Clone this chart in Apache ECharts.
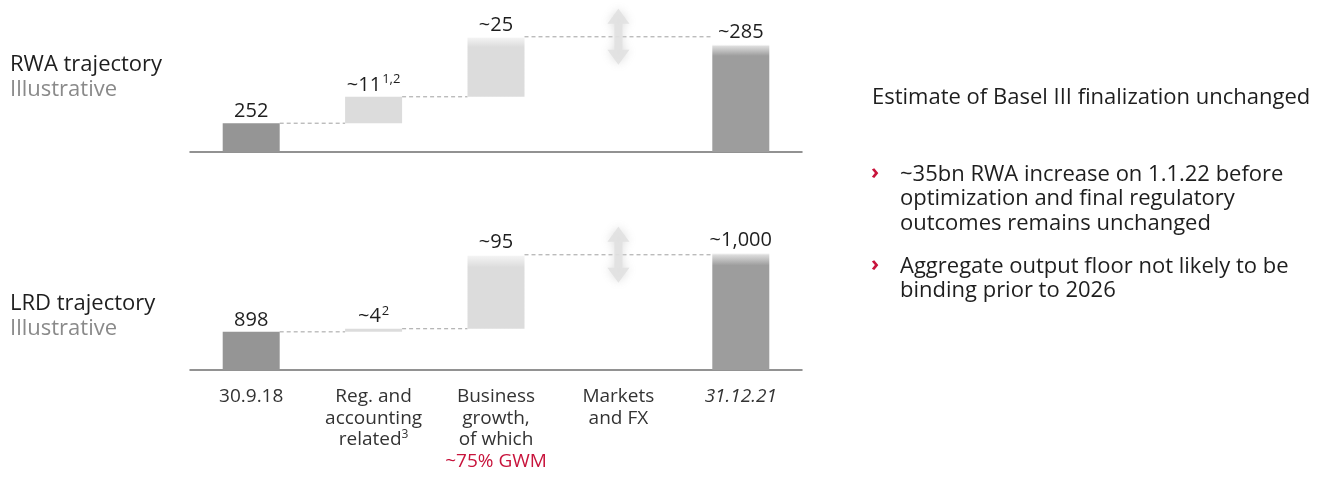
<!DOCTYPE html>
<html>
<head>
<meta charset="utf-8">
<script src="https://cdn.jsdelivr.net/npm/echarts@6/dist/echarts.min.js"></script>
<style>
  html, body { margin: 0; padding: 0; background: #ffffff; }
  #chart { width: 1329px; height: 479px; }
</style>
</head>
<body>
<div id="chart"></div>
<script>
// Waterfall steps: start value, changes, end value
const categories = ['30.9.18', 'Reg. and accounting related', 'Business growth', 'Markets and FX', '31.12.21'];
const categoryLabels = [
  '30.9.18',
  'Reg. and\naccounting\nrelated{sup|3}',
  'Business\ngrowth,\nof which\n{red|~75% GWM}',
  'Markets\nand FX',
  '{it|31.12.21}'
];

const rwaValues = [252, 11, 25, -3, 285];
const rwaLabels = ['252', '~11', '~25', '', '~285'];
const rwaNotes = ['', '1,2', '', '', ''];

const lrdValues = [898, 4, 95, 3, 1000];
const lrdLabels = ['898', '~4', '~95', '', '~1,000'];
const lrdNotes = ['', '2', '', '', ''];

const FONT = '"Open Sans", "Noto Sans", sans-serif';
const BAR_W = 57;
const DARK = '#959595';
const DARK_END = '#9d9d9d';
const LIGHT = '#dcdcdc';

function fade(color, stop) {
  return new echarts.graphic.LinearGradient(0, 0, 0, 1, [
    { offset: 0, color: 'rgba(255,255,255,0.0)' },
    { offset: 0.02, color: echarts.color.modifyAlpha(color, 0.35) },
    { offset: stop, color: color },
    { offset: 1, color: color }
  ]);
}

function buildWaterfall(vals) {
  const l0 = vals[0];
  const l1 = l0 + vals[1];
  const l2 = l1 + vals[2];
  const base = [0, l0, l1, '-', 0];
  const shown = [
    { value: vals[0], itemStyle: { color: DARK } },
    { value: vals[1], itemStyle: { color: LIGHT } },
    { value: vals[2], itemStyle: { color: fade(LIGHT, 0.17) } },
    '-',
    { value: vals[4], itemStyle: { color: fade(DARK_END, 0.11) } }
  ];
  const connectors = [[0, 1, l0], [1, 2, l1], [2, 4, l2]];
  const arrow = [[3, l2]];
  return { base, shown, connectors, arrow };
}

const valueRich = {
  v: { fontFamily: FONT, fontSize: 20, color: '#1e1e1e', lineHeight: 24 },
  sup: { fontFamily: FONT, fontSize: 13, color: '#1e1e1e', lineHeight: 24, verticalAlign: 'top', padding: [0, 0, 0, 1] }
};

function seriesFor(vals, labels, notes, idx) {
  const w = buildWaterfall(vals);
  return [
    {
      type: 'bar', xAxisIndex: idx, yAxisIndex: idx, stack: 'w' + idx,
      barWidth: BAR_W, silent: true,
      itemStyle: { color: 'transparent' },
      data: w.base
    },
    {
      type: 'bar', xAxisIndex: idx, yAxisIndex: idx, stack: 'w' + idx,
      barWidth: BAR_W,
      data: w.shown,
      label: {
        show: true, position: 'top', distance: 0,
        formatter: p => {
          const main = labels[p.dataIndex];
          if (!main) return '';
          const note = notes[p.dataIndex];
          return '{v|' + main + '}' + (note ? '{sup|' + note + '}' : '');
        },
        rich: valueRich
      }
    },
    {
      type: 'custom', xAxisIndex: idx, yAxisIndex: idx, z: 1,
      encode: { x: [0, 1], y: 2 },
      data: w.connectors,
      renderItem: (params, api) => {
        const a = api.coord([api.value(0), api.value(2)]);
        const b = api.coord([api.value(1), api.value(2)]);
        return {
          type: 'line',
          shape: { x1: a[0] + BAR_W / 2, y1: a[1], x2: b[0] - BAR_W / 2, y2: b[1] },
          style: { stroke: '#a0a0a0', lineWidth: 1, lineDash: [4, 3] }
        };
      }
    },
    {
      type: 'scatter', xAxisIndex: idx, yAxisIndex: idx, z: 5, silent: true,
      symbol: 'path://M11 0 L22 15 L15 15 L15 41 L22 41 L11 56 L0 41 L7 41 L7 15 L0 15 Z',
      symbolSize: [22, 56],
      itemStyle: { color: '#e0e0e0', opacity: 0.85, shadowBlur: 10, shadowColor: 'rgba(215,215,215,1)' },
      data: w.arrow
    }
  ];
}

const axisLineStyle = { lineStyle: { color: '#6f6f6f', width: 1.5 } };

const chart = echarts.init(document.getElementById('chart'), null, { renderer: 'canvas' });
chart.setOption({
  animation: false,
  backgroundColor: '#ffffff',
  grid: [
    { left: 190, right: 527, top: 20, bottom: 327 },
    { left: 190, right: 527, top: 240, bottom: 109 }
  ],
  xAxis: [
    {
      type: 'category', gridIndex: 0, data: categories,
      axisLine: axisLineStyle, axisTick: { show: false }, axisLabel: { show: false }
    },
    {
      type: 'category', gridIndex: 1, data: categories,
      axisLine: axisLineStyle, axisTick: { show: false },
      axisLabel: {
        interval: 0, margin: 16,
        formatter: (v, i) => categoryLabels[i],
        fontFamily: FONT, fontSize: 19, color: '#333333', lineHeight: 21.5,
        rich: {
          sup: { fontFamily: FONT, fontSize: 12, color: '#333333', lineHeight: 21.5, verticalAlign: 'top' },
          red: { fontFamily: FONT, fontSize: 19, color: '#c8143c', lineHeight: 21.5 },
          it: { fontFamily: FONT, fontSize: 19, color: '#333333', lineHeight: 21.5, fontStyle: 'italic' }
        }
      }
    }
  ],
  yAxis: [
    { type: 'value', gridIndex: 0, min: 240, max: 295, show: false },
    { type: 'value', gridIndex: 1, min: 849, max: 1016, show: false }
  ],
  series: [].concat(seriesFor(rwaValues, rwaLabels, rwaNotes, 0), seriesFor(lrdValues, lrdLabels, lrdNotes, 1)),
  graphic: [
    { type: 'text', left: 10, top: 54, style: { text: 'RWA trajectory', font: '22px ' + FONT, fill: '#1e1e1e' } },
    { type: 'text', left: 10, top: 79, style: { text: 'Illustrative', font: '22px ' + FONT, fill: '#8a8a8a' } },
    { type: 'text', left: 10, top: 293, style: { text: 'LRD trajectory', font: '22px ' + FONT, fill: '#1e1e1e' } },
    { type: 'text', left: 10, top: 318, style: { text: 'Illustrative', font: '22px ' + FONT, fill: '#8a8a8a' } },
    { type: 'text', left: 872, top: 87, style: { text: 'Estimate of Basel III finalization unchanged', font: '22px ' + FONT, fill: '#1e1e1e' } },
    { type: 'text', left: 871, top: 162, style: { text: '›', font: 'bold 22px ' + FONT, fill: '#c8143c' } },
    { type: 'text', left: 900, top: 162, style: { text: '~35bn RWA increase on 1.1.22 before\noptimization and final regulatory\noutcomes remains unchanged', font: '22px ' + FONT, fill: '#1e1e1e', lineHeight: 24.5 } },
    { type: 'text', left: 871, top: 254, style: { text: '›', font: 'bold 22px ' + FONT, fill: '#c8143c' } },
    { type: 'text', left: 900, top: 254, style: { text: 'Aggregate output floor not likely to be\nbinding prior to 2026', font: '22px ' + FONT, fill: '#1e1e1e', lineHeight: 24.5 } }
  ]
});
</script>
</body>
</html>
